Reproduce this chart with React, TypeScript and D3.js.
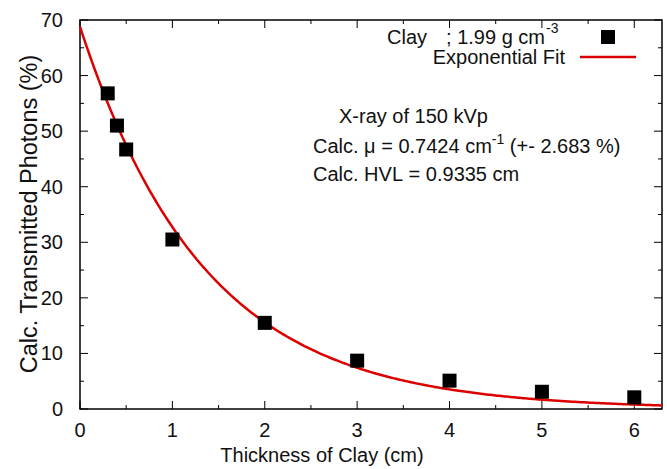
import React, { useEffect, useRef } from 'react';
import * as d3 from 'd3';

// measured points (thickness in cm, transmitted photons in %)
const thickness = [0.3, 0.4, 0.5, 1, 2, 3, 4, 5, 6];
const transmitted = [56.8, 51.0, 46.7, 30.5, 15.5, 8.7, 5.1, 3.1, 2.1];

const xTicks = [0, 1, 2, 3, 4, 5, 6];
const yTicks = [0, 10, 20, 30, 40, 50, 60, 70];

// fit parameters: I = I0 * exp(-mu * x)
const fitI0 = 68.8;
const fitMu = 0.7424;

const W = 667;
const H = 469;
const FONT = '"Liberation Sans", Arial, sans-serif';
const NB = '\u00a0';

const App = () => {
  const svgRef = useRef<SVGSVGElement>(null);

  useEffect(() => {
    const svg = d3.select(svgRef.current);
    svg.selectAll('*').remove();

    const margin = { top: 20, right: 5, bottom: 60, left: 80 };
    const x = d3.scaleLinear().domain([0, 6.3]).range([margin.left, W - margin.right]);
    const y = d3.scaleLinear().domain([0, 70]).range([H - margin.bottom, margin.top]);
    const x0 = x.range()[0], x1 = x.range()[1];
    const y0 = y.range()[0], y1 = y.range()[1];

    // ticks on all four sides, pointing inward
    const ticks = svg.append('g').attr('stroke', '#000').attr('stroke-width', 1);
    d3.range(0, 6.3, 0.5).forEach(v => {
      const len = Number.isInteger(v) ? 8 : 4;
      ticks.append('line').attr('x1', x(v)).attr('x2', x(v)).attr('y1', y0).attr('y2', y0 - len);
      ticks.append('line').attr('x1', x(v)).attr('x2', x(v)).attr('y1', y1).attr('y2', y1 + len);
    });
    d3.range(0, 71, 5).forEach(v => {
      const len = v % 10 === 0 ? 8 : 4;
      ticks.append('line').attr('y1', y(v)).attr('y2', y(v)).attr('x1', x0).attr('x2', x0 + len);
      ticks.append('line').attr('y1', y(v)).attr('y2', y(v)).attr('x1', x1).attr('x2', x1 - len);
    });

    // frame
    svg.append('rect')
      .attr('x', x0).attr('y', y1)
      .attr('width', x1 - x0).attr('height', y0 - y1)
      .attr('fill', 'none').attr('stroke', '#000').attr('stroke-width', 1.5);

    const labels = svg.append('g').attr('font-family', FONT).attr('font-size', 20).attr('fill', '#111');
    xTicks.forEach(v => {
      labels.append('text').attr('x', x(v)).attr('y', y0 + 28).attr('text-anchor', 'middle').text(v);
    });
    yTicks.forEach(v => {
      labels.append('text').attr('x', x0 - 17).attr('y', y(v) + 7).attr('text-anchor', 'end').text(v);
    });

    labels.append('text')
      .attr('x', 322).attr('y', H - 7)
      .attr('text-anchor', 'middle').attr('font-size', 20)
      .text('Thickness of Clay (cm)');
    labels.append('text')
      .attr('transform', `translate(37,214) rotate(-90)`)
      .attr('text-anchor', 'middle').attr('font-size', 23.5)
      .text('Calc. Transmitted Photons (%)');

    // fitted curve
    const fitX = d3.range(0, 6.3001, 0.02);
    const line = d3.line<number>().x(d => x(d)).y(d => y(fitI0 * Math.exp(-fitMu * d)));
    svg.append('path')
      .datum(fitX)
      .attr('d', line)
      .attr('fill', 'none')
      .attr('stroke', '#dd0000')
      .attr('stroke-width', 2.5);

    // data squares
    const s = 14;
    svg.append('g').selectAll('rect')
      .data(thickness.map((t, i) => [t, transmitted[i]]))
      .join('rect')
      .attr('x', d => x(d[0]) - s / 2)
      .attr('y', d => y(d[1]) - s / 2)
      .attr('width', s).attr('height', s)
      .attr('fill', '#000');

    // legend
    const leg = svg.append('g').attr('font-family', FONT).attr('font-size', 20).attr('fill', '#111');
    leg.append('text').attr('x', 387).attr('y', 44).text('Clay');
    leg.append('text').attr('x', 545).attr('y', 44).attr('text-anchor', 'end').text('; 1.99 g cm');
    leg.append('text').attr('x', 546).attr('y', 33).attr('font-size', 14).text('-3');
    leg.append('rect').attr('x', 601).attr('y', 30).attr('width', s).attr('height', s).attr('fill', '#000');
    leg.append('text').attr('x', 565).attr('y', 64).attr('text-anchor', 'end').text('Exponential Fit');
    leg.append('line').attr('x1', 580).attr('x2', 636).attr('y1', 57).attr('y2', 57)
      .attr('stroke', '#dd0000').attr('stroke-width', 2.5);

    // annotation
    const ann = svg.append('g').attr('font-family', FONT).attr('fill', '#111');
    ann.append('text').attr('x', 339).attr('y', 123).attr('font-size', 20).text('X-ray of 150 kVp');
    const mu = ann.append('text').attr('x', 313).attr('y', 153).attr('font-size', 20);
    mu.append('tspan').text(`Calc. \u03bc${NB}=${NB}0.7424 cm`);
    mu.append('tspan').attr('dy', -9).attr('font-size', 14).text('-1');
    mu.append('tspan').attr('dy', 9).text(`${NB}(+- 2.683 %)`);
    ann.append('text').attr('x', 313).attr('y', 181).attr('font-size', 20)
      .text(`Calc. HVL${NB}=${NB}0.9335 cm`);
  }, []);

  return (
    <svg
      ref={svgRef}
      width={W}
      height={H}
      style={{ position: 'absolute', left: 0, top: 0, background: '#fff' }}
    />
  );
};

export default App;
